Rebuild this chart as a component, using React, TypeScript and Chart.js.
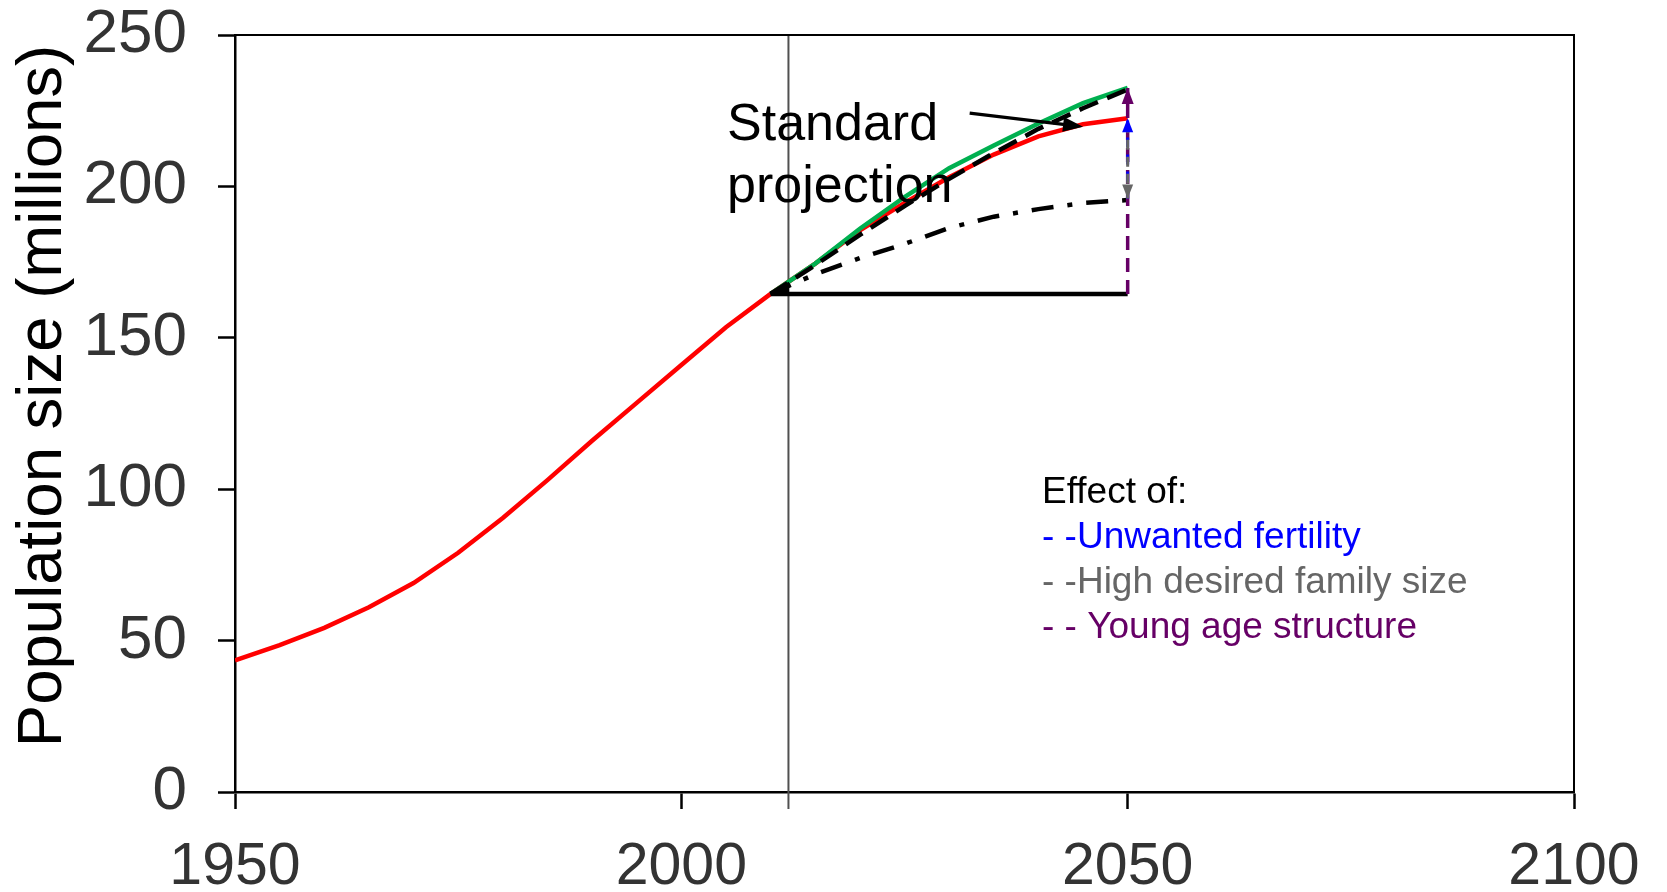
import React, { useEffect, useRef } from 'react';
import { Chart, registerables } from 'chart.js';

Chart.register(...registerables);

// ---------- data ----------
const HIST_YEARS = [1950, 1955, 1960, 1965, 1970, 1975, 1980, 1985, 1990, 1995, 2000, 2005, 2010];
const HIST_POP = [43.5, 48.5, 54.2, 61, 69, 79, 90.5, 103, 116, 128.5, 141, 153.5, 164.5];

const PROJ_YEARS = [2010, 2015, 2020, 2025, 2030, 2035, 2040, 2045, 2050];
const STANDARD_POP = [164.5, 174.5, 185.5, 194.5, 203, 210.5, 216.5, 220.5, 222.5];
const HIGH_POP = [164.5, 174.5, 186, 196.5, 206, 213.5, 220.8, 227.5, 232.5];
const DASHED_POP = [164.5, 174, 184, 193.5, 202.5, 211, 219, 225.8, 232];
const DASHDOT_POP = [164.5, 171, 176.3, 181, 186.3, 190, 192.5, 194.5, 195.5];

const FLAT_YEARS = [2010, 2050];
const FLAT_POP = [164.5, 164.5];

const WEDGE_YEARS = [2010, 2012, 2012, 2010];
const WEDGE_POP = [164.5, 168.3, 164.5, 164.5];

const ARROW_YEAR = 2050;
const PURPLE_ARROW = [164.5, 232.5];
const BLUE_ARROW = [196, 222.5];
const GRAY_ARROW = [221, 196];

const STD_ARROW_YEARS = [2032.3, 2045.0];
const STD_ARROW_POP = [224.2, 219.7];

const VLINE_YEAR = 2012;

const X_TICKS = [1950, 2000, 2050, 2100];
const Y_TICKS = [0, 50, 100, 150, 200, 250];

const Y_TITLE = 'Population size (millions)';
const STD_LABEL = ['Standard', 'projection'];
const LEGEND_TITLE = 'Effect of:';
const LEGEND_LINES = ['- -Unwanted fertility', '- -High desired family size', '- - Young age structure'];
const LEGEND_COLORS = ['#0000FF', '#666666', '#660066'];

// ---------- helpers ----------
const pts = (xs: number[], ys: number[]) => xs.map((x, i) => ({ x, y: ys[i] }));
const FONT = "'Liberation Sans', Arial, sans-serif";

function head(ctx: CanvasRenderingContext2D, tx: number, ty: number, fx: number, fy: number, len: number, hw: number, color: string) {
  const dx = tx - fx, dy = ty - fy;
  const d = Math.hypot(dx, dy) || 1;
  const ux = dx / d, uy = dy / d;
  const bx = tx - ux * len, by = ty - uy * len;
  ctx.save();
  ctx.fillStyle = color;
  ctx.beginPath();
  ctx.moveTo(tx, ty);
  ctx.lineTo(bx - uy * hw, by + ux * hw);
  ctx.lineTo(bx + uy * hw, by - ux * hw);
  ctx.closePath();
  ctx.fill();
  ctx.restore();
}

const overlay = {
  id: 'overlay',
  beforeDatasetsDraw(chart: any) {
    const { ctx, chartArea, scales } = chart;
    const px = scales.x.getPixelForValue(VLINE_YEAR);
    ctx.save();
    ctx.strokeStyle = '#505050';
    ctx.lineWidth = 2;
    ctx.beginPath();
    ctx.moveTo(px, chartArea.top);
    ctx.lineTo(px, chartArea.bottom + 17);
    ctx.stroke();
    ctx.restore();
  },
  afterDatasetsDraw(chart: any) {
    const { ctx, scales } = chart;
    const x = scales.x, y = scales.y;
    const ax = x.getPixelForValue(ARROW_YEAR);
    head(ctx, ax, y.getPixelForValue(PURPLE_ARROW[1]), ax, y.getPixelForValue(PURPLE_ARROW[0]), 16, 6, '#660066');
    head(ctx, ax, y.getPixelForValue(BLUE_ARROW[1]), ax, y.getPixelForValue(BLUE_ARROW[0]), 14, 5.5, '#0000FF');
    head(ctx, ax, y.getPixelForValue(GRAY_ARROW[1]), ax, y.getPixelForValue(GRAY_ARROW[0]), 14, 5.5, '#666666');
    const sx0 = x.getPixelForValue(STD_ARROW_YEARS[0]), sy0 = y.getPixelForValue(STD_ARROW_POP[0]);
    const sx1 = x.getPixelForValue(STD_ARROW_YEARS[1]), sy1 = y.getPixelForValue(STD_ARROW_POP[1]);
    ctx.save();
    ctx.strokeStyle = '#000';
    ctx.lineWidth = 3.3;
    ctx.beginPath();
    ctx.moveTo(sx0, sy0);
    ctx.lineTo(sx1 - (sx1 - sx0) * 0.1, sy1 - (sy1 - sy0) * 0.1);
    ctx.stroke();
    ctx.restore();
    head(ctx, sx1, sy1, sx0, sy0, 20, 7.5, '#000');
  },
  afterDraw(chart: any) {
    const { ctx, chartArea } = chart;
    ctx.save();
    ctx.strokeStyle = '#000';
    ctx.lineWidth = 2;
    ctx.beginPath();
    ctx.moveTo(chartArea.left, chartArea.top);
    ctx.lineTo(chartArea.right, chartArea.top);
    ctx.lineTo(chartArea.right, chartArea.bottom);
    ctx.stroke();
    ctx.fillStyle = '#000';
    ctx.font = `63.5px ${FONT}`;
    ctx.textAlign = 'center';
    ctx.textBaseline = 'alphabetic';
    ctx.save();
    ctx.translate(61, 396);
    ctx.rotate(-Math.PI / 2);
    ctx.fillText(Y_TITLE, 0, 0);
    ctx.restore();
    ctx.textAlign = 'left';
    ctx.font = `52px ${FONT}`;
    ctx.fillText(STD_LABEL[0], 727, 140);
    ctx.fillText(STD_LABEL[1], 727, 202);
    ctx.font = `37px ${FONT}`;
    ctx.fillText(LEGEND_TITLE, 1042, 503);
    LEGEND_LINES.forEach((t, i) => {
      ctx.fillStyle = LEGEND_COLORS[i];
      ctx.fillText(t, 1042, 548 + i * 45);
    });
    ctx.restore();
  },
};

export default function App() {
  const ref = useRef<HTMLCanvasElement>(null);
  useEffect(() => {
    document.body.style.margin = '0';
    const lineDs = (label: string, data: any[], color: string, order: number, dash: number[] = [], width = 4.5) => ({
      label,
      data,
      borderColor: color,
      backgroundColor: color,
      borderWidth: width,
      borderDash: dash,
      pointRadius: 0,
      tension: 0,
      fill: false,
      order,
    });
    const wedge = { ...lineDs('wedge', pts(WEDGE_YEARS, WEDGE_POP), '#000000', 6, [], 1), fill: 'shape' };
    const chart = new Chart(ref.current!, {
      type: 'line',
      data: {
        datasets: [
          lineDs('Standard projection', pts([...HIST_YEARS, ...PROJ_YEARS.slice(1)], [...HIST_POP, ...STANDARD_POP.slice(1)]), '#FF0000', 10),
          lineDs('High', pts(PROJ_YEARS, HIGH_POP), '#00B050', 9),
          lineDs('Dashed', pts(PROJ_YEARS, DASHED_POP), '#000000', 8, [20, 10]),
          lineDs('Dash-dot', pts(PROJ_YEARS, DASHDOT_POP), '#000000', 7, [22, 14, 5, 14]),
          lineDs('Constant', pts(FLAT_YEARS, FLAT_POP), '#000000', 6),
          wedge,
          lineDs('Young age structure', pts([ARROW_YEAR, ARROW_YEAR], PURPLE_ARROW), '#660066', 5, [14, 8], 3.5),
          lineDs('Unwanted fertility', pts([ARROW_YEAR, ARROW_YEAR], BLUE_ARROW), '#0000FF', 4, [10, 7], 3),
          lineDs('High desired family size', pts([ARROW_YEAR, ARROW_YEAR], GRAY_ARROW), '#666666', 3, [10, 7], 3),
        ],
      },
      options: {
        responsive: false,
        animation: false,
        devicePixelRatio: 1,
        layout: { padding: { top: 35, right: 93, left: 0, bottom: 0 } },
        plugins: { legend: { display: false }, tooltip: { enabled: false } },
        scales: {
          x: {
            type: 'linear',
            min: 1950,
            max: 2100,
            afterBuildTicks: (s: any) => { s.ticks = X_TICKS.map((v) => ({ value: v })); },
            afterFit: (s: any) => { s.height = 100; s.paddingLeft = 0; s.paddingRight = 0; },
            ticks: { font: { family: FONT, size: 59 }, color: '#333333', padding: 23, maxRotation: 0, autoSkip: false, callback: (v: any) => String(v) },
            grid: { drawOnChartArea: false, drawTicks: true, tickLength: 17, tickWidth: 2.5, tickColor: '#000' },
            border: { display: true, color: '#000', width: 2.5 },
          },
          y: {
            type: 'linear',
            min: 0,
            max: 250,
            afterBuildTicks: (s: any) => { s.ticks = Y_TICKS.map((v) => ({ value: v })); },
            afterFit: (s: any) => { s.width = 235; s.paddingTop = 0; s.paddingBottom = 0; },
            ticks: { font: { family: FONT, size: 62 }, color: '#333333', padding: 31, callback: (v: any) => String(v) },
            grid: { drawOnChartArea: false, drawTicks: true, tickLength: 17, tickWidth: 2.5, tickColor: '#000' },
            border: { display: true, color: '#000', width: 2.5 },
          },
        },
      },
      plugins: [overlay],
    } as any);
    return () => chart.destroy();
  }, []);
  return (
    <div style={{ width: 1667, height: 892 }}>
      <canvas ref={ref} width={1667} height={892} style={{ display: 'block', width: 1667, height: 892 }} />
    </div>
  );
}
